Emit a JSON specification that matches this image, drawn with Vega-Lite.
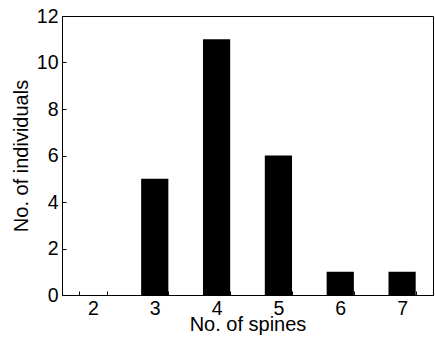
{
  "$schema": "https://vega.github.io/schema/vega-lite/v6.json",
  "autosize": "none",
  "padding": {"left": 62, "top": 16, "right": 2, "bottom": 43},
  "width": 371,
  "height": 279,
  "background": "white",
  "config": {
    "font": "Liberation Sans",
    "view": {"stroke": "black", "strokeWidth": 1},
    "axis": {
      "labelFont": "Liberation Sans",
      "titleFont": "Liberation Sans",
      "labelFontSize": 19.5,
      "titleFontSize": 20,
      "titleFontWeight": "normal",
      "labelColor": "black",
      "titleColor": "black",
      "domainColor": "black",
      "tickColor": "black",
      "grid": false
    }
  },
  "data": {
    "values": [
      {"spines": "2", "individuals": 0},
      {"spines": "3", "individuals": 5},
      {"spines": "4", "individuals": 11},
      {"spines": "5", "individuals": 6},
      {"spines": "6", "individuals": 1},
      {"spines": "7", "individuals": 1}
    ]
  },
  "mark": {"type": "bar", "color": "black"},
  "encoding": {
    "x": {
      "field": "spines",
      "type": "ordinal",
      "scale": {"paddingInner": 0.56, "paddingOuter": 0.28},
      "axis": {
        "title": "No. of spines",
        "labelAngle": 0,
        "tickBand": "extent",
        "tickSize": -4,
        "labelPadding": 8,
        "titlePadding": -3
      }
    },
    "y": {
      "field": "individuals",
      "type": "quantitative",
      "scale": {"domain": [0, 12], "nice": false},
      "axis": {
        "title": "No. of individuals",
        "values": [0, 2, 4, 6, 8, 10, 12],
        "tickSize": -4,
        "labelPadding": 8,
        "titlePadding": 5
      }
    }
  }
}
